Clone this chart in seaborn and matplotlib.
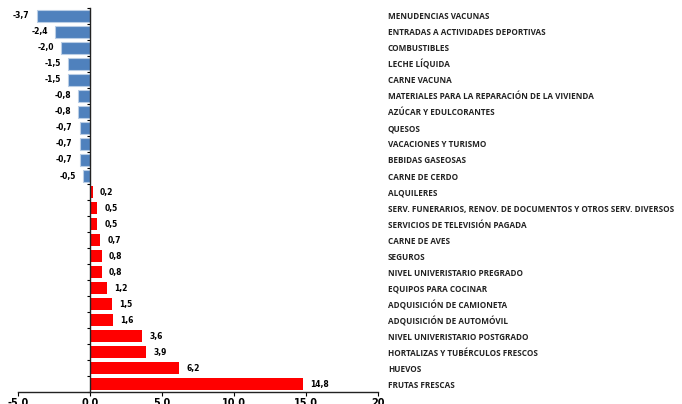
import numpy as np
import matplotlib.pyplot as plt
import seaborn as sns

categories = ["MENUDENCIAS VACUNAS", "ENTRADAS A ACTIVIDADES DEPORTIVAS", "COMBUSTIBLES",
              "LECHE LÍQUIDA", "CARNE VACUNA", "MATERIALES PARA LA REPARACIÓN DE LA VIVIENDA",
              "AZÚCAR Y EDULCORANTES", "QUESOS", "VACACIONES Y TURISMO", "BEBIDAS GASEOSAS",
              "CARNE DE CERDO", "ALQUILERES",
              "SERV. FUNERARIOS, RENOV. DE DOCUMENTOS Y OTROS SERV. DIVERSOS",
              "SERVICIOS DE TELEVISIÓN PAGADA", "CARNE DE AVES", "SEGUROS",
              "NIVEL UNIVERISTARIO PREGRADO", "EQUIPOS PARA COCINAR", "ADQUISICIÓN DE CAMIONETA",
              "ADQUISICIÓN DE AUTOMÓVIL", "NIVEL UNIVERISTARIO POSTGRADO",
              "HORTALIZAS Y TUBÉRCULOS FRESCOS", "HUEVOS", "FRUTAS FRESCAS"]
values = [-3.7, -2.4, -2.0, -1.5, -1.5, -0.8, -0.8, -0.7, -0.7, -0.7, -0.5,
          0.2, 0.5, 0.5, 0.7, 0.8, 0.8, 1.2, 1.5, 1.6, 3.6, 3.9, 6.2, 14.8]
xticks = [-5, 0, 5, 10, 15, 20]
xticklabels = ["-5.0", "0.0", "5.0", "10.0", "15.0", "20"]

colors = ["#4F81BD" if v < 0 else "#FF0000" for v in values]

fig = plt.figure(figsize=(6.82, 4.04), dpi=100)
ax = fig.add_axes([0.0264, 0.0297, 0.5279, 0.9505])
sns.barplot(x=values, y=categories, hue=categories, palette=colors, legend=False,
            orient="h", width=0.75, ax=ax, saturation=1)
for bar, v in zip(ax.patches, values):
    if v < 0:
        bar.set_edgecolor("#B9CDE5")
        bar.set_linewidth(0.8)
    else:
        bar.set_linewidth(0)

ax.set_xlim(-5, 20)
ax.set_ylim(len(values) - 0.5, -0.5)
ax.set_xticks(xticks)
ax.set_xticklabels(xticklabels, fontsize=7, fontweight="bold")
ax.tick_params(axis="x", length=3, width=0.8, pad=1)

ax.spines["left"].set_position(("data", 0))
ax.spines["right"].set_visible(False)
ax.spines["top"].set_visible(False)
for s in ["left", "bottom"]:
    ax.spines[s].set_linewidth(1)
    ax.spines[s].set_color("#222222")

ax.set_yticks(np.arange(len(values) + 1) - 0.5, minor=True)
ax.tick_params(axis="y", which="major", left=False, right=False,
               labelleft=False, labelright=True, pad=3.5)
ax.tick_params(axis="y", which="minor", left=True, length=2.5, width=0.8)
for lab in ax.get_yticklabels():
    lab.set_fontsize(5.9)
    lab.set_fontweight("bold")
    lab.set_family("Open Sans")
    lab.set_color("#222222")

for i, v in enumerate(values):
    txt = f"{v:.1f}".replace(".", ",")
    if v < 0:
        ax.text(v - 0.5, i, txt, ha="right", va="center", fontsize=5.5, fontweight="bold")
    else:
        ax.text(v + 0.5, i, txt, ha="left", va="center", fontsize=5.5, fontweight="bold")

ax.set_xlabel("")
ax.set_ylabel("")
fig.savefig("out.png", dpi=100)
